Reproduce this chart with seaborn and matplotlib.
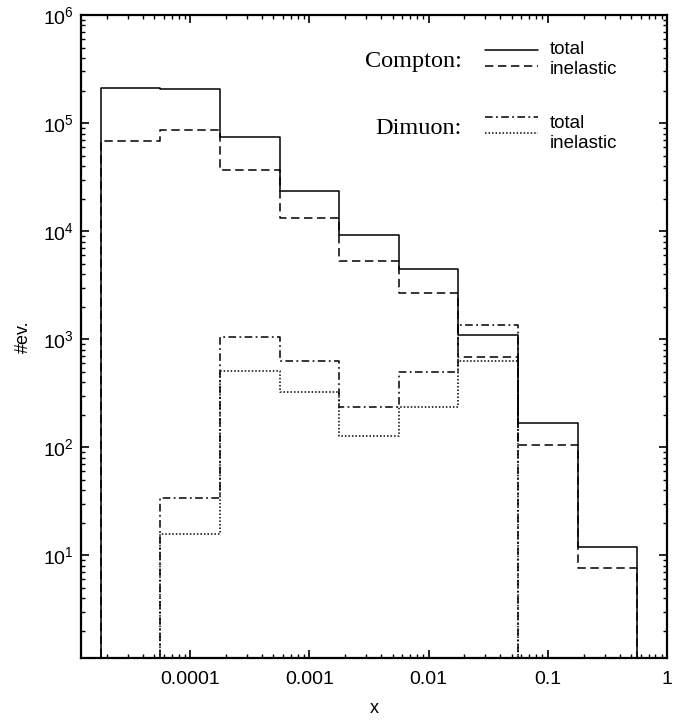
import numpy as np
import pandas as pd
import matplotlib
matplotlib.use("Agg")
import matplotlib.pyplot as plt
import seaborn as sns
from matplotlib.ticker import LogLocator, NullFormatter

# ---- data; zero-count bins outside the range ----
log_edges = [-5.25, -4.75, -4.25, -3.75, -3.25, -2.75, -2.25, -1.75, -1.25, -0.75, -0.25, 0.25]
compton_total = [0, 2.12e5, 2.05e5, 7.4e4, 2.36e4, 9.2e3, 4.5e3, 1.10e3, 168, 11.9, 0]
compton_inelastic = [0, 6.8e4, 8.6e4, 3.7e4, 1.32e4, 5.3e3, 2.7e3, 680, 105, 7.6, 0]
dimuon_total = [0, 0, 34, 1040, 628, 238, 493, 1360, 0, 0, 0]
dimuon_inelastic = [0, 0, 15.9, 505, 327, 126, 234, 624, 0, 0, 0]
x_tick_values = [1e-4, 1e-3, 1e-2, 1e-1, 1]
x_tick_labels = ["0.0001", "0.001", "0.01", "0.1", "1"]

sns.set_style("ticks")
plt.rcParams["font.family"] = ["Liberation Sans", "DejaVu Sans"]
plt.rcParams["mathtext.fontset"] = "custom"
plt.rcParams["mathtext.rm"] = "Liberation Sans"
for k in ["text.color", "axes.labelcolor", "xtick.color", "ytick.color", "axes.edgecolor"]:
    plt.rcParams[k] = "black"

W, H = 699, 721
fig = plt.figure(figsize=(W / 100, H / 100), dpi=100)
L, R, T, B = 81, 667, 15, 658
ax = fig.add_axes([L / W, 1 - B / H, (R - L) / W, (B - T) / H])

centers = 10 ** (np.array(log_edges[:-1]) + 0.25)
nb = len(log_edges) - 1
series = [
    ("Compton total", compton_total, "-"),
    ("Compton inelastic", compton_inelastic, (0, (5.5, 3))),
    ("Dimuon total", dimuon_total, (0, (5, 2.2, 1.2, 2.2))),
    ("Dimuon inelastic", dimuon_inelastic, (0, (1, 1.3))),
]
for name, vals, ls in series:
    df = pd.DataFrame({"x": centers, "w": vals})
    sns.histplot(data=df, x="x", weights="w", bins=nb,
                 binrange=(log_edges[0], log_edges[-1]), log_scale=(True, False),
                 element="step", fill=False, color="black", linewidth=1.1,
                 linestyle=ls, ax=ax)

ax.set_yscale("log")
ax.set_xlim(10 ** -4.915, 1)
ax.set_ylim(1.12, 1e6)

ax.xaxis.set_major_locator(matplotlib.ticker.FixedLocator(x_tick_values))
ax.xaxis.set_major_formatter(matplotlib.ticker.FixedFormatter(x_tick_labels))
ax.xaxis.set_minor_locator(LogLocator(base=10, subs=np.arange(2, 10), numticks=20))
ax.xaxis.set_minor_formatter(NullFormatter())
ax.yaxis.set_major_locator(LogLocator(base=10, numticks=20))
ax.yaxis.set_minor_locator(LogLocator(base=10, subs=np.arange(2, 10), numticks=20))
ax.yaxis.set_minor_formatter(NullFormatter())

ax.tick_params(which="both", direction="in", top=True, right=True, color="black")
ax.tick_params(which="major", length=6, width=1.2, labelsize=14)
ax.tick_params(axis="x", which="major", pad=9)
ax.tick_params(axis="y", which="major", pad=5)
ax.tick_params(which="minor", length=3, width=1.0)
for s in ax.spines.values():
    s.set_linewidth(1.6)
    s.set_color("black")

ax.set_xlabel("x", fontsize=13, labelpad=9)
ax.set_ylabel("#ev.", fontsize=13, labelpad=8)

def axc(px, py):
    return (px - L) / (R - L), (B - py) / (B - T)

serif = ["Liberation Serif", "DejaVu Serif"]
for label, ty in [("Compton:", 61), ("Dimuon:", 128)]:
    ax.text(*axc(462, ty), label, transform=ax.transAxes, ha="right", va="center",
            fontsize=17.5, family=serif)

legend_items = [
    ("-", 50, "total", 49),
    ((0, (5.5, 3)), 66, "inelastic", 69),
    ((0, (5, 2.2, 1.2, 2.2)), 117, "total", 124),
    ((0, (1, 1.3)), 133, "inelastic", 144),
]
for ls, ly, lab, tyy in legend_items:
    x0, y0 = axc(485, ly)
    x1, _ = axc(538, ly)
    ax.plot([x0, x1], [y0, y0], transform=ax.transAxes, color="black",
            linewidth=1.1, linestyle=ls)
    ax.text(*axc(550, tyy), lab, transform=ax.transAxes, ha="left", va="center",
            fontsize=13.5)

fig.savefig("out.png", dpi=100)
